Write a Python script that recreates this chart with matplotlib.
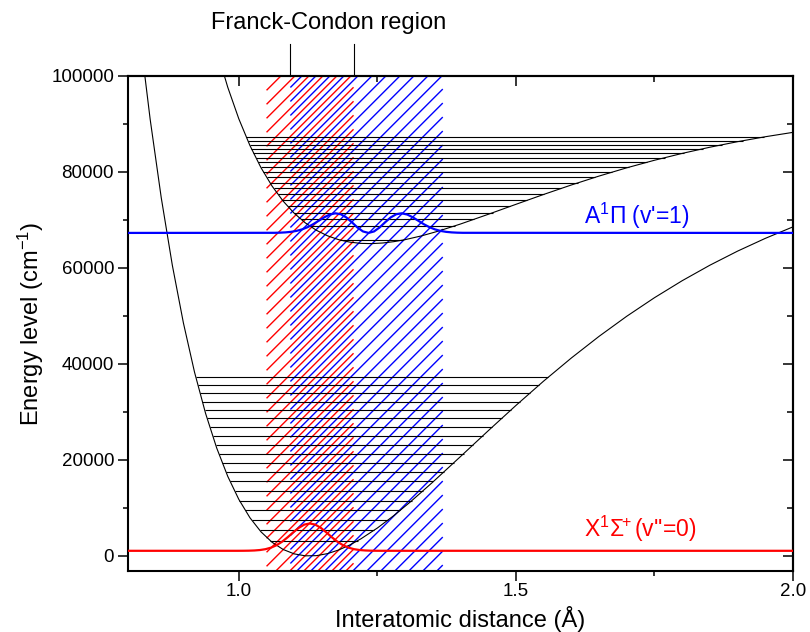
import numpy as np
import matplotlib.pyplot as plt
from matplotlib.collections import LineCollection
from matplotlib.ticker import MultipleLocator, NullFormatter

plt.rcParams['font.family'] = ['Liberation Sans', 'DejaVu Sans']
plt.rcParams['mathtext.fontset'] = 'custom'
plt.rcParams['mathtext.rm'] = 'Liberation Sans'
plt.rcParams['mathtext.it'] = 'Liberation Sans:italic'

''' ground state X potential curve (cm-1 vs angstrom)'''
x_X = [0.82, 0.84, 0.86, 0.88, 0.90, 0.92, 0.94, 0.96, 0.98, 1.00, 1.02, 1.04,
       1.06, 1.08, 1.10, 1.12, 1.14, 1.16, 1.18, 1.20, 1.22, 1.25, 1.28, 1.31,
       1.35, 1.40, 1.45, 1.50, 1.55, 1.60, 1.65, 1.70, 1.75, 1.80, 1.85, 1.90,
       1.95, 2.00]
E_X = [109869, 90975, 74635, 60573, 48542, 38319, 29704, 22516, 16594, 11791,
       7977, 5035, 2860, 1356, 439, 34, 73, 496, 1248, 2282, 3555, 5830, 8448,
       11316, 15398, 20720, 26091, 31363, 36438, 41249, 45759, 49948, 53811,
       57352, 60582, 63517, 66174, 68572]

''' excited state A potential curve'''
x_A = [0.96, 0.98, 1.00, 1.02, 1.04, 1.06, 1.08, 1.10, 1.12, 1.14, 1.16, 1.18,
       1.20, 1.22, 1.24, 1.26, 1.28, 1.30, 1.33, 1.36, 1.40, 1.45, 1.50, 1.55,
       1.60, 1.65, 1.70, 1.75, 1.80, 1.85, 1.90, 1.95, 2.00]
E_A = [105438, 97658, 91068, 85523, 80891, 77059, 73924, 71397, 69397, 67856,
       66710, 65905, 65392, 65130, 65081, 65212, 65494, 65903, 66705, 67681,
       69164, 71183, 73265, 75322, 77296, 79153, 80872, 82447, 83876, 85164,
       86317, 87346, 88259]

''' vibrational levels: energy, left and right turning points
    (the populated level is drawn as the coloured line instead)'''
levX_E = [3225, 5341, 7432, 9495, 11532, 13542, 15526, 17483, 19414,
          21318, 23195, 25046, 26870, 28668, 30439, 32184, 33901, 35593, 37258]
levX_left = [1.0561, 1.0376, 1.0233, 1.0114, 1.0012, 0.9922, 0.9841,
             0.9767, 0.9700, 0.9637, 0.9579, 0.9525, 0.9474, 0.9427, 0.9381,
             0.9339, 0.9298, 0.9260, 0.9223]
levX_right = [1.2151, 1.2440, 1.2687, 1.2912, 1.3122, 1.3321, 1.3512,
              1.3698, 1.3878, 1.4056, 1.4230, 1.4402, 1.4573, 1.4743, 1.4911,
              1.5079, 1.5247, 1.5415, 1.5583]

levA_E = [65829, 68749, 70151, 71514, 72838, 74124, 75370, 76578, 77747,
          78877, 79969, 81021, 82035, 83010, 83946, 84844, 85702, 86522, 87303]
levA_left = [1.1824, 1.1278, 1.1119, 1.0990, 1.0881, 1.0786, 1.0703,
             1.0628, 1.0561, 1.0500, 1.0445, 1.0394, 1.0347, 1.0304, 1.0264,
             1.0227, 1.0193, 1.0161, 1.0132]
levA_right = [1.2968, 1.3892, 1.4248, 1.4580, 1.4898, 1.5207, 1.5512,
              1.5815, 1.6118, 1.6424, 1.6732, 1.7046, 1.7365, 1.7691, 1.8026,
              1.8371, 1.8727, 1.9095, 1.9478]

''' probability densities drawn on their level'''
wfX_x = [0.80, 0.998, 1.008, 1.018, 1.028, 1.038, 1.048, 1.058, 1.068, 1.078,
         1.088, 1.098, 1.108, 1.118, 1.128, 1.138, 1.148, 1.158, 1.168, 1.178,
         1.188, 1.198, 1.208, 1.218, 1.228, 1.238, 1.248, 1.258, 2.00]
wfX_E = [1082, 1085, 1092, 1109, 1151, 1242, 1420, 1738, 2246, 2973, 3895,
         4913, 5859, 6536, 6782, 6536, 5859, 4913, 3895, 2973, 2246, 1738,
         1420, 1242, 1151, 1109, 1092, 1085, 1082]

wfA_x = [0.80, 1.064, 1.074, 1.084, 1.094, 1.104, 1.114, 1.124, 1.134, 1.144,
         1.154, 1.164, 1.174, 1.184, 1.194, 1.204, 1.214, 1.224, 1.234, 1.244,
         1.254, 1.264, 1.274, 1.284, 1.294, 1.304, 1.314, 1.324, 1.334, 1.344,
         1.354, 1.364, 1.374, 1.384, 1.394, 1.404, 2.00]
wfA_E = [67308, 67331, 67360, 67420, 67532, 67728, 68042, 68503, 69113, 69832,
         70558, 71136, 71394, 71200, 70534, 69527, 68446, 67618, 67308, 67618,
         68446, 69527, 70534, 71200, 71394, 71136, 70558, 69832, 69113, 68503,
         68042, 67728, 67532, 67420, 67360, 67331, 67308]

''' hatched regions (angstrom)'''
regX = (1.050, 1.207)
regA = (1.093, 1.368)

xmin, xmax = 0.8, 2.0
ymin, ymax = -3125, 100000

fig = plt.figure(figsize=(8.1, 6.32), dpi=100)
ax = fig.add_axes([128/810, 61/632, 665/810, 495/632])
ax.set_xlim(xmin, xmax)
ax.set_ylim(ymin, ymax)

''' diagonal hatching at 45 degrees on screen'''
bb = ax.get_window_extent()
ppx = bb.width/(xmax-xmin)
ppy = bb.height/(ymax-ymin)
k = ppx/ppy
step = 14/ppx

def hatch(reg, phase, col):
    x0, x1 = reg
    c = np.arange(xmin - ymax/k - 1 + phase, x1 - ymin/k, step)
    c = c[(c > x0 - ymax/k - step) & (c < x1 - ymin/k + step)]
    segs = [[(x0, k*(x0-cc)), (x1, k*(x1-cc))] for cc in c]
    ax.add_collection(LineCollection(segs, colors=col, linewidths=1.0, zorder=1))

hatch(regX, step/2, 'red')
hatch(regA, 0.0, 'blue')

ax.hlines(levX_E, levX_left, levX_right, colors='k', linewidth=0.8, zorder=2)
ax.hlines(levA_E, levA_left, levA_right, colors='k', linewidth=0.8, zorder=2)

ax.plot(x_X, E_X, 'k-', linewidth=0.8, zorder=3)
ax.plot(x_A, E_A, 'k-', linewidth=0.8, zorder=3)

ax.plot(wfX_x, wfX_E, '-', color='red', linewidth=1.6, zorder=4)
ax.plot(wfA_x, wfA_E, '-', color='blue', linewidth=1.6, zorder=4)

ax.text(1.622, 69170, "A$^1$Π (v'=1)", color='blue', fontsize=16.5)
ax.text(1.622, 3890, r"X$^1\Sigma^{\!\!+}$(v''=0)", color='red', fontsize=16.5)

''' Franck-Condon markers above the frame'''
ax.plot([regA[0], regA[0]], [ymax, 106700], 'k-', linewidth=0.8, clip_on=False)
ax.plot([regX[1], regX[1]], [ymax, 106700], 'k-', linewidth=0.8, clip_on=False)
ax.text(1.162, 111000, 'Franck-Condon region', ha='center', va='center',
        fontsize=17)

ax.set_xlabel('Interatomic distance (Å)', fontsize=17)
ax.set_ylabel('Energy level (cm$^{-1}$)', fontsize=17)

ax.set_xticks([1.0, 1.5, 2.0])
ax.set_xticklabels(['1.0', '1.5', '2.0'])
ax.xaxis.set_minor_locator(MultipleLocator(0.25))
ax.set_yticks(np.arange(0, 100001, 20000))
ax.yaxis.set_minor_locator(MultipleLocator(10000))
ax.tick_params(which='both', direction='out', width=1.1, labelsize=13.5)
ax.tick_params(which='major', length=7)
ax.tick_params(which='minor', length=3.6)
ax.tick_params(axis='x', pad=2)
ax.tick_params(axis='y', pad=3)
for s in ax.spines.values():
    s.set_linewidth(1.5)

top = ax.secondary_xaxis('top')
top.set_xticks([1.0, 1.5, 2.0])
top.xaxis.set_minor_locator(MultipleLocator(0.25))
top.xaxis.set_major_formatter(NullFormatter())
top.tick_params(which='both', direction='in', width=1.1)
top.tick_params(which='major', length=7)
top.tick_params(which='minor', length=4)
top.spines['top'].set_linewidth(1.5)

right = ax.secondary_yaxis('right')
right.set_yticks(np.arange(0, 100001, 20000))
right.yaxis.set_minor_locator(MultipleLocator(10000))
right.yaxis.set_major_formatter(NullFormatter())
right.tick_params(which='both', direction='in', width=1.1)
right.tick_params(which='major', length=7)
right.tick_params(which='minor', length=4)
right.spines['right'].set_linewidth(1.5)

plt.savefig('out.png', dpi=100)
